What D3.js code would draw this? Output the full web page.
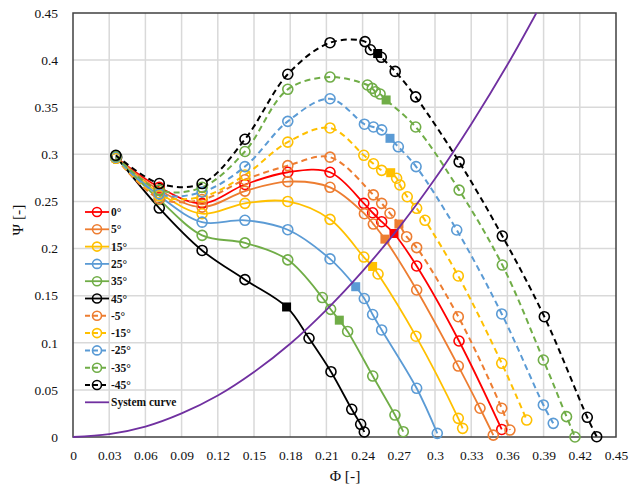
<!DOCTYPE html>
<html>
<head>
<meta charset="utf-8">
<script src="https://cdn.jsdelivr.net/npm/d3@7/dist/d3.min.js"></script>
<style>
  body { margin: 0; background: #fff; }
  svg { display: block; }
  text { font-family: "Liberation Serif", "Times New Roman", serif; fill: #111; }
</style>
</head>
<body>
<svg id="chart" width="631" height="493"></svg>
<script>
// tick labels
const xTicks = [0, 0.03, 0.06, 0.09, 0.12, 0.15, 0.18, 0.21, 0.24, 0.27, 0.30, 0.33, 0.36, 0.39, 0.42, 0.45];
const yTicks = [0, 0.05, 0.1, 0.15, 0.2, 0.25, 0.3, 0.35, 0.4, 0.45];

// series: [phi, psi] points, plus operating point (square)
const s0 = [[0.0355,0.297],[0.0715,0.265],[0.107,0.248],[0.1425,0.268],[0.178,0.281],[0.213,0.281],[0.241,0.248],[0.2483,0.238],[0.2558,0.2285],[0.2848,0.1815],[0.3199,0.1019],[0.3553,0.008]];
const s0Op = [0.266, 0.216];
const s5 = [[0.0355,0.297],[0.0715,0.262],[0.107,0.244],[0.1425,0.261],[0.178,0.271],[0.213,0.265],[0.2415,0.237],[0.2489,0.226],[0.2848,0.156],[0.3193,0.0753],[0.3373,0.0305],[0.3483,0.002]];
const s5Op = [0.2585, 0.210];
const s15 = [[0.0355,0.296],[0.0715,0.259],[0.107,0.237],[0.1425,0.248],[0.178,0.250],[0.213,0.231],[0.241,0.191],[0.2528,0.173],[0.2842,0.107],[0.3193,0.0198],[0.3229,0.0092]];
const s15Op = [0.2483, 0.181];
const s25 = [[0.0355,0.296],[0.0715,0.256],[0.107,0.228],[0.1425,0.230],[0.178,0.220],[0.213,0.189],[0.2414,0.147],[0.2483,0.130],[0.2558,0.1136],[0.2848,0.0517],[0.3019,0.0039]];
const s25Op = [0.2343, 0.1595];
const s35 = [[0.0355,0.296],[0.0715,0.252],[0.107,0.214],[0.1425,0.206],[0.178,0.188],[0.2066,0.148],[0.2135,0.1355],[0.2276,0.112],[0.2484,0.0647],[0.2668,0.0233],[0.2737,0.0056]];
const s35Op = [0.2207, 0.124];
const s45 = [[0.0362,0.297],[0.0715,0.243],[0.107,0.198],[0.1425,0.167],[0.1956,0.1048],[0.2138,0.0693],[0.231,0.0294],[0.2384,0.0135],[0.2414,0.0053]];
const s45Op = [0.177, 0.138];
const sM5 = [[0.0355,0.296],[0.0715,0.253],[0.107,0.252],[0.1425,0.273],[0.178,0.288],[0.213,0.297],[0.2489,0.257],[0.2558,0.248],[0.2627,0.2374],[0.2765,0.2126],[0.2848,0.201],[0.3193,0.1277],[0.3553,0.0305],[0.3621,0.0074]];
const sM5Op = [0.2701, 0.226];
const sM15 = [[0.0355,0.296],[0.0715,0.256],[0.107,0.255],[0.1425,0.278],[0.178,0.313],[0.213,0.328],[0.241,0.299],[0.249,0.290],[0.2558,0.283],[0.2682,0.2746],[0.2709,0.2675],[0.2770,0.255],[0.2848,0.2427],[0.2917,0.230],[0.3193,0.1709],[0.3553,0.0782],[0.376,0.018]];
const sM15Op = [0.2633, 0.2805];
const sM25 = [[0.0355,0.297],[0.0715,0.258],[0.107,0.260],[0.1425,0.287],[0.178,0.335],[0.213,0.359],[0.2415,0.332],[0.249,0.329],[0.2558,0.326],[0.2696,0.308],[0.2843,0.287],[0.318,0.2197],[0.3553,0.1306],[0.3898,0.034],[0.398,0.0145]];
const sM25Op = [0.2627, 0.317];
const sM35 = [[0.0355,0.298],[0.0715,0.262],[0.107,0.265],[0.1425,0.303],[0.178,0.369],[0.213,0.382],[0.244,0.3736],[0.248,0.370],[0.2505,0.3665],[0.2545,0.364],[0.284,0.329],[0.320,0.262],[0.3558,0.1825],[0.3898,0.0817],[0.409,0.0216],[0.416,0.0]];
const sM35Op = [0.2595, 0.3577];
const sM45 = [[0.0355,0.299],[0.0715,0.269],[0.107,0.269],[0.1425,0.316],[0.178,0.385],[0.213,0.4185],[0.242,0.4196],[0.2465,0.411],[0.2555,0.403],[0.267,0.388],[0.284,0.361],[0.320,0.292],[0.3558,0.2133],[0.3906,0.1277],[0.4262,0.0209],[0.434,0.0003]];
const sM45Op = [0.2525, 0.407];

// system curve
const sysPhi = [0, 0.03, 0.06, 0.09, 0.12, 0.15, 0.18, 0.21, 0.24, 0.27, 0.30, 0.33, 0.36, 0.384];
const sysPsi = [0, 0.003, 0.011, 0.025, 0.044, 0.069, 0.099, 0.135, 0.176, 0.222, 0.274, 0.332, 0.395, 0.45];

const series = [
  { name: "0\u00b0", pts: s0, op: s0Op, color: "#ff0000", dash: false },
  { name: "5\u00b0", pts: s5, op: s5Op, color: "#ed7d31", dash: false },
  { name: "15\u00b0", pts: s15, op: s15Op, color: "#ffc000", dash: false },
  { name: "25\u00b0", pts: s25, op: s25Op, color: "#5b9bd5", dash: false },
  { name: "35\u00b0", pts: s35, op: s35Op, color: "#70ad47", dash: false },
  { name: "45\u00b0", pts: s45, op: s45Op, color: "#000000", dash: false },
  { name: "-5\u00b0", pts: sM5, op: sM5Op, color: "#ed7d31", dash: true },
  { name: "-15\u00b0", pts: sM15, op: sM15Op, color: "#ffc000", dash: true },
  { name: "-25\u00b0", pts: sM25, op: sM25Op, color: "#5b9bd5", dash: true },
  { name: "-35\u00b0", pts: sM35, op: sM35Op, color: "#70ad47", dash: true },
  { name: "-45\u00b0", pts: sM45, op: sM45Op, color: "#000000", dash: true }
];

const svg = d3.select("#chart");
const x = d3.scaleLinear().domain([0, 0.45]).range([73, 616]);
const y = d3.scaleLinear().domain([0, 0.45]).range([437, 13]);

// gridlines
svg.append("g").selectAll("line").data(xTicks.slice(1, -1)).join("line")
  .attr("x1", d => x(d)).attr("x2", d => x(d))
  .attr("y1", y(0)).attr("y2", y(0.45))
  .attr("stroke", "#d9d9d9").attr("stroke-width", 1.5);
svg.append("g").selectAll("line").data(yTicks.slice(1, -1)).join("line")
  .attr("x1", x(0)).attr("x2", x(0.45))
  .attr("y1", d => y(d)).attr("y2", d => y(d))
  .attr("stroke", "#d9d9d9").attr("stroke-width", 1.5);

// axes (labels only)
const fmt = d => d === 0 ? "0" : String(+d.toFixed(2));
const xAxis = svg.append("g").attr("transform", `translate(0,${y(0) + 10})`)
  .call(d3.axisBottom(x).tickValues(xTicks).tickSize(0).tickFormat(fmt));
const yAxis = svg.append("g").attr("transform", `translate(${x(0) - 12},0)`)
  .call(d3.axisLeft(y).tickValues(yTicks).tickSize(0).tickFormat(fmt));
[xAxis, yAxis].forEach(a => {
  a.select(".domain").remove();
  a.selectAll("text").attr("font-size", 13.5)
    .attr("font-family", "Liberation Serif, Times New Roman, serif").attr("fill", "#111");
});

// plot border
svg.append("rect")
  .attr("x", x(0)).attr("y", y(0.45))
  .attr("width", x(0.45) - x(0)).attr("height", y(0) - y(0.45))
  .attr("fill", "none").attr("stroke", "#404040").attr("stroke-width", 1.5);

// clip for lines
svg.append("clipPath").attr("id", "plotclip").append("rect")
  .attr("x", x(0)).attr("y", y(0.45) - 1)
  .attr("width", x(0.45) - x(0)).attr("height", y(0) - y(0.45) + 2);

const line = d3.line().x(d => x(d[0])).y(d => y(d[1])).curve(d3.curveCatmullRom.alpha(0.5));
const plot = svg.append("g").attr("clip-path", "url(#plotclip)");

series.forEach(s => {
  const all = s.pts.concat([s.op]).sort((a, b) => a[0] - b[0]);
  plot.append("path").datum(all)
    .attr("d", line).attr("fill", "none")
    .attr("stroke", s.color).attr("stroke-width", s.dash ? 2 : 1.8)
    .attr("stroke-dasharray", s.dash ? "6,4" : null);
});

// circle markers (not clipped, the ones on the axis show in full)
const markers = svg.append("g");
series.forEach(s => {
  markers.append("g").selectAll("circle").data(s.pts).join("circle")
    .attr("cx", d => x(d[0])).attr("cy", d => y(d[1])).attr("r", 5)
    .attr("fill", "none").attr("stroke", s.color).attr("stroke-width", 1.6);
});

// operating point squares
series.forEach(s => {
  markers.append("rect")
    .attr("x", x(s.op[0]) - 4.5).attr("y", y(s.op[1]) - 4.5)
    .attr("width", 9).attr("height", 9).attr("fill", s.color);
});

// system curve
const sysData = sysPhi.map((p, i) => [p, sysPsi[i]]);
svg.append("path").datum(sysData)
  .attr("clip-path", "url(#plotclip)")
  .attr("d", line).attr("fill", "none")
  .attr("stroke", "#7030a0").attr("stroke-width", 1.8);

// legend
const leg = svg.append("g").attr("transform", "translate(85,212)");
const rowH = 17.3;
series.forEach((s, i) => {
  const g = leg.append("g").attr("transform", `translate(0,${i * rowH})`);
  g.append("line").attr("x1", 0).attr("x2", 24).attr("y1", 0).attr("y2", 0)
    .attr("stroke", s.color).attr("stroke-width", s.dash ? 2 : 1.8)
    .attr("stroke-dasharray", s.dash ? "5,3" : null);
  g.append("circle").attr("cx", 12).attr("cy", 0).attr("r", 4.5)
    .attr("fill", "none").attr("stroke", s.color).attr("stroke-width", 1.6);
  g.append("text").attr("x", 26).attr("y", 4).attr("font-size", 11.5)
    .attr("font-weight", "bold").text(s.name);
});
const gs = leg.append("g").attr("transform", `translate(0,${series.length * rowH})`);
gs.append("line").attr("x1", 0).attr("x2", 24).attr("y1", 0).attr("y2", 0)
  .attr("stroke", "#7030a0").attr("stroke-width", 1.8);
gs.append("text").attr("x", 26).attr("y", 4).attr("font-size", 11.5)
  .attr("font-weight", "bold").text("System curve");

// axis titles
svg.append("text").attr("x", 345).attr("y", 481).attr("text-anchor", "middle")
  .attr("font-size", 15.5).text("\u03a6 [-]");
svg.append("text").attr("transform", "translate(23,220) rotate(-90)")
  .attr("text-anchor", "middle").attr("font-size", 15.5).text("\u03a8 [-]");
</script>
</body>
</html>
